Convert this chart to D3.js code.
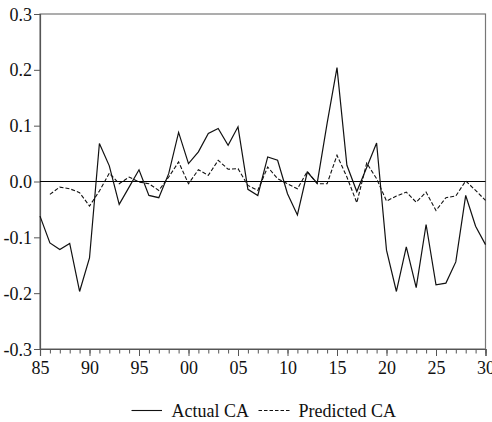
<!DOCTYPE html>
<html><head><meta charset="utf-8">
<script src="https://cdn.jsdelivr.net/npm/d3@7"></script>
<style>body{margin:0;background:#fff}svg{display:block}</style>
</head><body>
<script>
const years = d3.range(1985, 2031);
const actualCA = [-0.062,-0.110,-0.122,-0.111,-0.197,-0.137,0.068,0.028,-0.041,-0.010,
  0.021,-0.025,-0.029,0.014,0.088,0.032,0.053,0.086,0.095,0.065,
  0.098,-0.014,-0.025,0.044,0.038,-0.022,-0.060,0.017,-0.003,0.104,
  0.204,0.029,-0.018,0.025,0.069,-0.123,-0.197,-0.117,-0.190,-0.077,
  -0.185,-0.182,-0.144,-0.025,-0.080,-0.113];
const predYears = d3.range(1986, 2031);
const predictedCA = [-0.023,-0.010,-0.013,-0.020,-0.044,-0.017,0.015,-0.004,0.008,
  -0.001,-0.004,-0.016,0.008,0.035,-0.004,0.021,0.011,0.038,0.022,
  0.023,-0.007,-0.016,0.026,0.005,-0.004,-0.013,0.018,-0.004,-0.004,
  0.047,0.008,-0.038,0.033,0.005,-0.035,-0.026,-0.019,-0.037,-0.019,
  -0.052,-0.029,-0.026,0.001,-0.016,-0.034];
const yTicks = [-0.3,-0.2,-0.1,0.0,0.1,0.2,0.3];
const xMajor = [1985,1990,1995,2000,2005,2010,2015,2020,2025,2030];
const legendLabels = ["Actual CA","Predicted CA"];

const W=492,H=422;
const L=40,R=485.5,T=14,B=349;
const FS=18;
const fontStyle='font-family:"Liberation Serif","Times New Roman",serif';
const svg=d3.select("body").append("svg").attr("width",W).attr("height",H);
const x=d3.scaleLinear().domain([1985,2030]).range([L,R]);
const y=d3.scaleLinear().domain([-0.3,0.3]).range([B,T]);

// frame
svg.append("rect").attr("x",L).attr("y",T).attr("width",R-L).attr("height",B-T)
  .attr("fill","none").attr("stroke","#777").attr("stroke-width",1.2);

// y axis
const ya=svg.append("g").attr("transform",`translate(${L},0)`)
  .call(d3.axisLeft(y).tickValues(yTicks).tickFormat(d3.format(".1f")).tickSize(6).tickPadding(2));
ya.attr("font-family",null).attr("font-size",null);
ya.select(".domain").attr("stroke","#555").attr("stroke-width",1.2);
ya.selectAll(".tick line").attr("stroke","#555");
ya.selectAll("text").attr("style",fontStyle).attr("font-size",FS).attr("fill","#111")
  .attr("dy","0.34em")
  .text(d=>d3.format(".1f")(d).replace("−","-"));

// x axis minor
const xa2=svg.append("g").attr("transform",`translate(0,${B})`)
  .call(d3.axisBottom(x).tickValues(years).tickFormat("").tickSize(4.5));
xa2.select(".domain").remove();
xa2.selectAll(".tick line").attr("stroke","#555");
const xa=svg.append("g").attr("transform",`translate(0,${B})`)
  .call(d3.axisBottom(x).tickValues(xMajor).tickFormat(d=>String(d%100).padStart(2,"0")).tickSize(7).tickPadding(5));
xa.attr("font-family",null).attr("font-size",null);
xa.select(".domain").attr("stroke","#555").attr("stroke-width",1.2);
xa.selectAll(".tick line").attr("stroke","#555");
xa.selectAll("text").attr("style",fontStyle).attr("font-size",FS).attr("fill","#111");

// zero line
svg.append("line").attr("x1",L).attr("x2",R).attr("y1",y(0)).attr("y2",y(0))
  .attr("stroke","#000").attr("stroke-width",1.2);

const line=d3.line().x(d=>x(d[0])).y(d=>y(d[1]));
svg.append("path").datum(years.map((yr,i)=>[yr,actualCA[i]]))
  .attr("d",line).attr("fill","none").attr("stroke","#111").attr("stroke-width",1.2);
svg.append("path").datum(predYears.map((yr,i)=>[yr,predictedCA[i]]))
  .attr("d",line).attr("fill","none").attr("stroke","#111").attr("stroke-width",1.1)
  .attr("stroke-dasharray","4,2");

// legend
const lg=svg.append("g");
lg.append("line").attr("x1",131.5).attr("x2",162).attr("y1",410.5).attr("y2",410.5).attr("stroke","#111").attr("stroke-width",1.1);
lg.append("text").attr("x",171.5).attr("y",417).text(legendLabels[0])
  .attr("style",fontStyle).attr("font-size",FS).attr("fill","#111");
lg.append("line").attr("x1",258.5).attr("x2",290.5).attr("y1",410.5).attr("y2",410.5).attr("stroke","#111").attr("stroke-width",1.1).attr("stroke-dasharray","3.5,2");
lg.append("text").attr("x",298.5).attr("y",417).text(legendLabels[1])
  .attr("style",fontStyle).attr("font-size",FS).attr("fill","#111");
</script>
</body></html>
